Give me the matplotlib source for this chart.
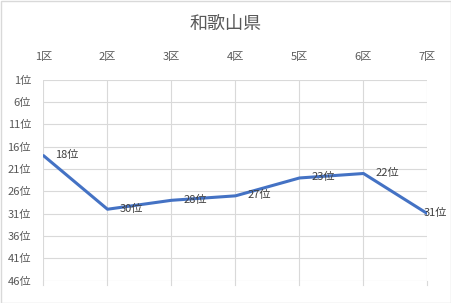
import matplotlib.pyplot as plt
import matplotlib.patches as patches

plt.rcParams['font.family'] = ['Noto Sans CJK JP', 'DejaVu Sans']

# data
districts = ['1区', '2区', '3区', '4区', '5区', '6区', '7区']
ranks = [18, 30, 28, 27, 23, 22, 31]
rank_ticks = [1, 6, 11, 16, 21, 26, 31, 36, 41, 46]
title = '和歌山県'

text_col = '#595959'
grid_col = '#d9d9d9'
line_col = '#4472C4'

fig = plt.figure(figsize=(4.52, 3.03), dpi=100)
ax = fig.add_axes([43.5 / 452, 1 - 280.7 / 303, 384 / 452, 201 / 303])

x = list(range(len(districts)))
ax.plot(x, ranks, color=line_col, linewidth=2.2, solid_capstyle='round', zorder=3)

for xi, r in zip(x, ranks):
    # labels sit to the right of the point; the last one is pulled back inside the chart
    dx = 8.5 if xi < len(x) - 1 else -3
    ax.annotate(f'{r}位', (xi, r), xytext=(dx, 0.5), textcoords='offset points',
                ha='left', va='center', fontsize=8, color='#404040', zorder=4)

ax.set_xlim(0, len(districts) - 1)
ax.set_ylim(46, 1)
ax.set_yticks(rank_ticks)
ax.set_yticklabels([f'{t}位' for t in rank_ticks])
ax.set_xticks(x)
ax.set_xticklabels(districts)

ax.xaxis.tick_top()
ax.tick_params(axis='x', which='both', top=False, bottom=False, labelsize=8,
               labelcolor=text_col, pad=9)
ax.tick_params(axis='y', length=0, labelsize=8, labelcolor=text_col, pad=9)

ax.grid(True, color=grid_col, linewidth=0.8)
ax.set_axisbelow(True)
for s in ax.spines.values():
    s.set_visible(False)

# category gridlines run a little below the plot area
for xi in x:
    ax.plot([xi, xi], [46, 47.0], color=grid_col, linewidth=0.8, clip_on=False, zorder=1)

fig.text(0.5, 1 - 24 / 303, title, ha='center', va='center', fontsize=13, color=text_col)

# chart border
fig.patches.append(patches.Rectangle((0.5 / 452, 0.5 / 303), 450.5 / 452, 301.5 / 303,
                                     transform=fig.transFigure, fill=False,
                                     edgecolor='#d9d9d9', linewidth=1))

fig.savefig('out.png', dpi=100)
